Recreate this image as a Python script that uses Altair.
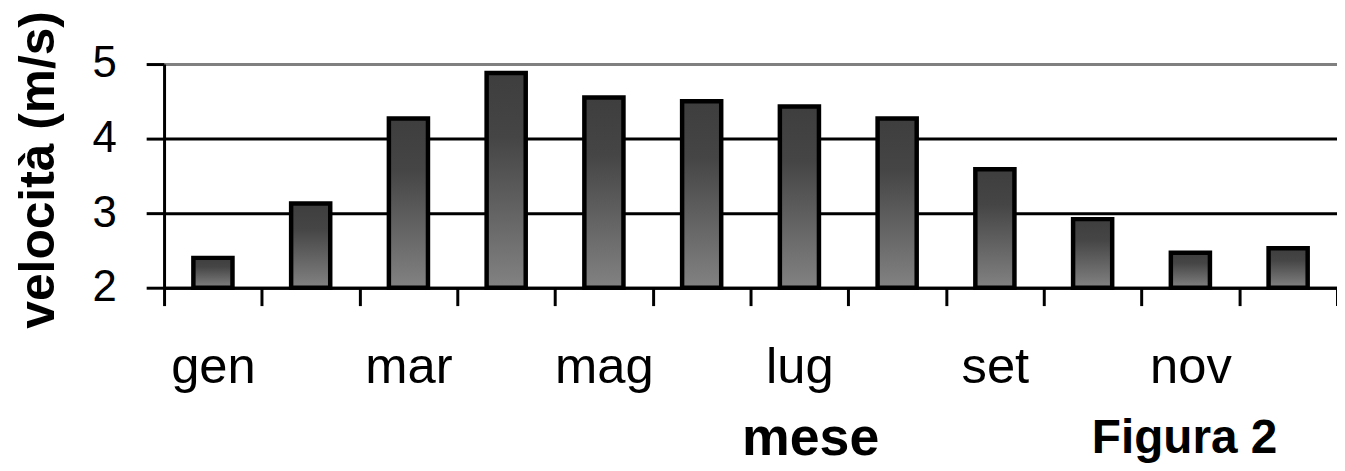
import altair as alt
import pandas as pd

months = ["gen", "feb", "mar", "apr", "mag", "giu", "lug", "ago", "set", "ott", "nov", "dic"]
speed = [2.40, 3.13, 4.27, 4.88, 4.55, 4.50, 4.43, 4.27, 3.59, 2.92, 2.47, 2.53]
shown_labels = ["gen", "mar", "mag", "lug", "set", "nov"]
y_ticks = [2, 3, 4, 5]

df = pd.DataFrame({"mese": months, "v": speed})

FONT = "Liberation Sans, Arial, sans-serif"

label_expr = "indexof([" + ",".join("'%s'" % m for m in shown_labels) + "], datum.value) >= 0 ? datum.label : ''"

gradient = alt.Gradient(
    gradient="linear",
    stops=[
        alt.GradientStop(color="#3e3e3e", offset=0),
        alt.GradientStop(color="#454545", offset=0.3),
        alt.GradientStop(color="#828282", offset=1),
    ],
    x1=0, x2=0, y1=0, y2=1,
)

bars = alt.Chart(df).mark_bar(
    fill=gradient, stroke="black", strokeWidth=4.5, width={"band": 0.4}
).encode(
    x=alt.X(
        "mese:N",
        sort=months,
        scale=alt.Scale(paddingInner=0, paddingOuter=0),
        axis=alt.Axis(
            title="mese",
            titleFont=FONT,
            titleFontSize=54,
            titleFontWeight="bold",
            titleColor="black",
            titleAnchor="start",
            titleAlign="center",
            titleBaseline="alphabetic",
            titleX=650,
            titleY=168,
            labelFont=FONT,
            labelFontSize=51,
            labelColor="black",
            labelAngle=0,
            labelPadding=37,
            labelOverlap=False,
            labelExpr=label_expr,
            tickBand="extent",
            tickSize=18,
            tickWidth=3,
            tickColor="black",
            domainColor="black",
            domainWidth=3,
            grid=False,
        ),
    ),
    y=alt.Y(
        "v:Q",
        scale=alt.Scale(domain=[2, 5], zero=False, nice=False),
        axis=alt.Axis(
            title="velocità (m/s)",
            titleFont=FONT,
            titleFontSize=50,
            titleFontWeight="bold",
            titleColor="black",
            titleAngle=-90,
            titleAlign="center",
            titleBaseline="alphabetic",
            titleX=-111,
            titleY=106,
            values=y_ticks,
            labelFont=FONT,
            labelFontSize=44,
            labelColor="black",
            labelPadding=30,
            tickSize=18,
            tickWidth=3,
            tickColor="black",
            domainColor="black",
            domainWidth=3,
            grid=True,
            gridWidth=3,
            gridColor=alt.condition("datum.value == 5", alt.value("#808080"), alt.value("black")),
        ),
    ),
    y2=alt.datum(2),
)

chart = bars.properties(
    width=1180,
    height=225,
    autosize=alt.AutoSizeParams(type="none"),
    padding={"left": 157, "top": 55, "right": 0, "bottom": 182},
    title=alt.TitleParams(
        text="Figura 2",
        orient="bottom",
        anchor="end",
        frame="group",
        font=FONT,
        fontSize=48,
        fontWeight="bold",
        color="black",
        baseline="alphabetic",
        offset=0,
        dx=-60,
        dy=-13,
    ),
).configure_view(stroke=None)

chart.save("out.html", embed_options={"renderer": "svg", "actions": False})
